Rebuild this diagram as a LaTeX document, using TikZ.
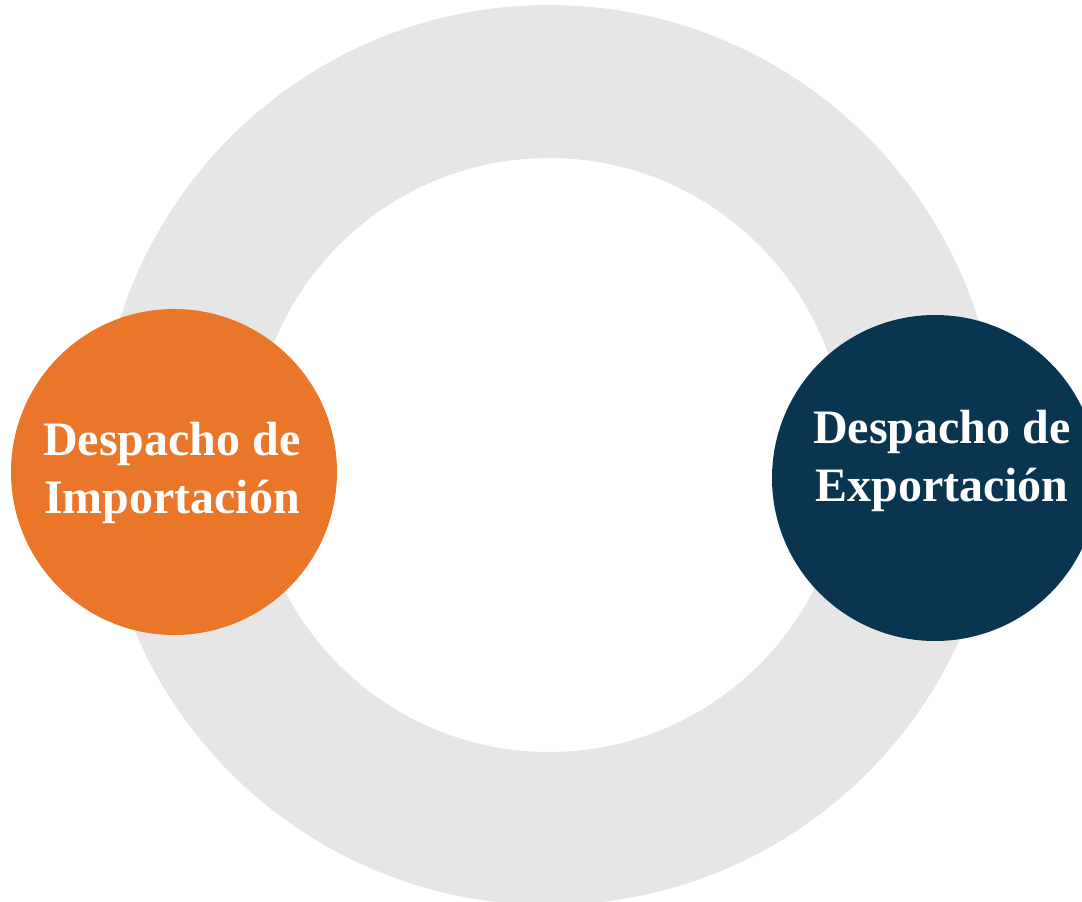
\documentclass[tikz,border=0pt]{standalone}
\usepackage{fontspec}
\setmainfont{Liberation Serif}
\definecolor{ringgray}{RGB}{230,230,230}
\definecolor{imporange}{RGB}{234,118,41}
\definecolor{expnavy}{RGB}{10,53,80}
\begin{document}
\begin{tikzpicture}[x=1pt,y=-1pt,
  bubble/.style={circle,minimum size=326pt,inner sep=0pt},
  label/.style={text=white,font=\bfseries\fontsize{48}{58}\selectfont,align=center}]
\useasboundingbox (0,0) rectangle (1082,902);
\begin{scope}
\clip (0,0) rectangle (1082,902);
\fill[ringgray,even odd rule] (549,455) circle[radius=450] (549,455) circle[radius=297];
\node[bubble,fill=imporange] (imp) at (174,472) {};
\node[bubble,fill=expnavy] (exp) at (935,478) {};
\end{scope}
\node[label] (impt) at (172,473) {Despacho de\\Importación};
\node[label] (expt) at (942,461) {Despacho de\\Exportación};
\end{tikzpicture}
\end{document}
